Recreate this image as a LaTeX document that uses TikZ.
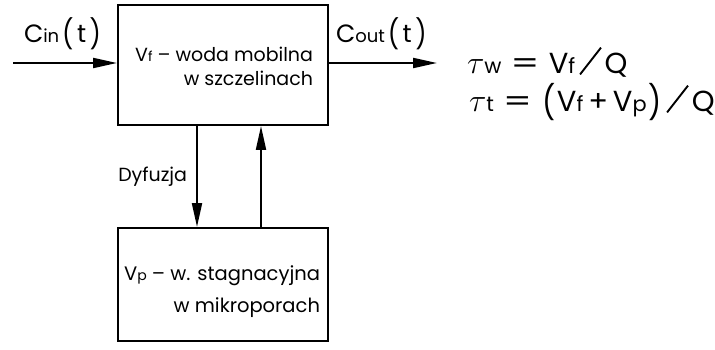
\documentclass[tikz,border=0pt]{standalone}
\usepackage{graphicx}
\usepackage{fontspec}
\setmainfont{Poppins}
\usetikzlibrary{arrows.meta,positioning}
\newcommand{\idx}[1]{\scalebox{0.72}{#1}}
\newcommand{\lpar}{\hspace{1pt}\raisebox{-0.08em}{\scalebox{1}[1.15]{(}}\hspace{1.5pt}}
\newcommand{\rpar}{\hspace{1.5pt}\raisebox{-0.08em}{\scalebox{1}[1.15]{)}}\hspace{1pt}}
\newcommand{\wideslash}{\hspace{4pt}\raisebox{-1pt}{\rotatebox{52}{\rule{34pt}{1.9pt}}}\hspace{3pt}}
\newcommand{\eqsign}{\hspace{9pt}\scalebox{1.4}[1]{=}\hspace{9pt}}
\newcommand{\tauvar}{\scalebox{1.3}{$\tau$}}

\begin{document}
\begin{tikzpicture}[x=1pt,y=-1pt,line width=2pt,
    >={Triangle[length=24pt,width=10pt]},
    tank/.style={draw,minimum width=210pt,minimum height=120pt,
      anchor=north west,inner sep=0pt},
    tanktext/.style={align=right,inner sep=0pt,font=\fontsize{19}{24}\selectfont},
    flowlabel/.style={inner sep=0pt,font=\fontsize{25}{28}\selectfont},
    formula/.style={inner sep=0pt,font=\fontsize{29}{32}\selectfont}]
  \useasboundingbox (0,0) rectangle (715,350);
  % the two zones
  \node[tank] (fract) at (117,4) {};
  \node[tank,minimum height=113pt] (pore) at (117,227) {};
  \node[tanktext,anchor=north east] (fracttext) at (314,46)
    {V\idx{f} -- woda mobilna\\w szczelinach};
  \node[tanktext,anchor=north east,font=\fontsize{19.5}{32}\selectfont] (poretext) at (321,265)
    {V\idx{p} -- w. stagnacyjna\\w mikroporach};
  % inflow and outflow
  \coordinate (inlet) at (13,63);
  \coordinate (outlet) at (437,63);
  \draw[->] (inlet) -- (inlet -| fract.west);
  \draw[->] (outlet -| fract.east) -- (outlet);
  \node[flowlabel,anchor=base west] (cin) at (23,43)
    {C\idx{in}\hspace{2pt}\lpar\hspace{2pt}t\hspace{2pt}\rpar};
  \node[flowlabel,anchor=base west] (cout) at (335,43)
    {C\idx{out}\hspace{2pt}\lpar\hspace{2pt}t\hspace{2pt}\rpar};
  % exchange between zones
  \draw[->] ([xshift=-26pt]fract.south) -- ([xshift=-26pt]pore.north);
  \draw[->] ([xshift=38pt]pore.north) -- ([xshift=38pt]fract.south);
  \node[tanktext,anchor=base east] (diffusion) at (188,182) {Dyfuzja};
  % residence times
  \node[formula,anchor=base west] (tauw) at (466,74)
    {\tauvar\idx{w}\eqsign V\idx{f}\wideslash Q};
  \node[formula,anchor=base west] (taut) at (468,112)
    {\tauvar\idx{t}\eqsign\lpar V\idx{f}\,+\,V\idx{p}\rpar\wideslash Q};
\end{tikzpicture}
\end{document}
